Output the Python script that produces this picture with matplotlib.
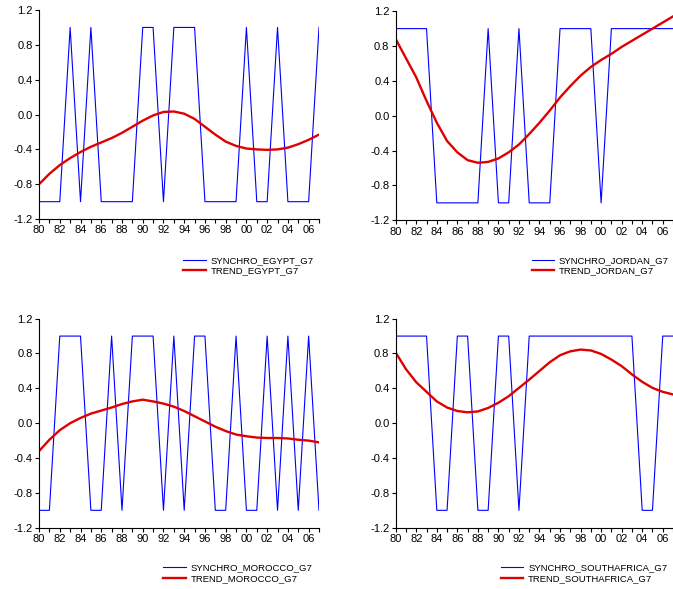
import matplotlib
matplotlib.use("Agg")
import matplotlib.pyplot as plt

plt.rcParams['font.family'] = ['Liberation Sans', 'DejaVu Sans']

years = list(range(1980, 2008))

synchro_egypt = [-1, -1, -1, 1, -1, 1, -1, -1, -1, -1, 1, 1, -1, 1,
                 1, 1, -1, -1, -1, -1, 1, -1, -1, 1, -1, -1, -1, 1]
trend_egypt = [-0.80, -0.68, -0.58, -0.50, -0.43, -0.37, -0.32, -0.27, -0.21, -0.14,
               -0.07, -0.01, 0.03, 0.035, 0.01, -0.05, -0.14, -0.23, -0.31, -0.36,
               -0.39, -0.40, -0.405, -0.40, -0.38, -0.34, -0.29, -0.23]

synchro_jordan = [1, 1, 1, 1, -1, -1, -1, -1, -1, 1, -1, -1, 1, -1,
                  -1, -1, 1, 1, 1, 1, -1, 1, 1, 1, 1, 1, 1, 1]
trend_jordan = [0.88, 0.66, 0.44, 0.17, -0.08, -0.29, -0.42, -0.51, -0.54, -0.53,
                -0.49, -0.42, -0.33, -0.21, -0.08, 0.06, 0.21, 0.34, 0.46, 0.56,
                0.64, 0.71, 0.79, 0.86, 0.93, 1.00, 1.07, 1.14]

synchro_morocco = [-1, -1, 1, 1, 1, -1, -1, 1, -1, 1, 1, 1, -1, 1,
                   -1, 1, 1, -1, -1, 1, -1, -1, 1, -1, 1, -1, 1, -1]
trend_morocco = [-0.32, -0.19, -0.08, 0.0, 0.06, 0.11, 0.145, 0.18, 0.22, 0.25,
                 0.27, 0.25, 0.225, 0.19, 0.14, 0.08, 0.02, -0.04, -0.09, -0.13,
                 -0.15, -0.165, -0.17, -0.17, -0.175, -0.19, -0.20, -0.22]

synchro_southafrica = [1, 1, 1, 1, -1, -1, 1, 1, -1, -1, 1, 1, -1, 1,
                       1, 1, 1, 1, 1, 1, 1, 1, 1, 1, -1, -1, 1, 1]
trend_southafrica = [0.81, 0.62, 0.47, 0.36, 0.25, 0.18, 0.14, 0.125, 0.135, 0.175,
                     0.235, 0.31, 0.405, 0.50, 0.60, 0.70, 0.78, 0.825, 0.845, 0.835,
                     0.795, 0.73, 0.655, 0.56, 0.475, 0.405, 0.36, 0.33]

panels = [
    ("EGYPT", synchro_egypt, trend_egypt),
    ("JORDAN", synchro_jordan, trend_jordan),
    ("MOROCCO", synchro_morocco, trend_morocco),
    ("SOUTHAFRICA", synchro_southafrica, trend_southafrica),
]

# axes rectangles [left, bottom, width, height] in figure fraction
rects = [
    [0.058, 0.628, 0.416, 0.355],
    [0.588, 0.626, 0.412, 0.355],
    [0.058, 0.104, 0.416, 0.355],
    [0.588, 0.104, 0.412, 0.355],
]
# legend anchors (upper left) in figure fraction
leg_pos = [(0.272, 0.565), (0.790, 0.565), (0.242, 0.043), (0.744, 0.043)]

fig = plt.figure(figsize=(6.73, 5.89), dpi=100)

for (name, syn, trd), rect, lp in zip(panels, rects, leg_pos):
    ax = fig.add_axes(rect)
    ax.plot(years, syn, color='#0000FF', linewidth=0.8, label=f"SYNCHRO_{name}_G7")
    ax.plot(years, trd, color='#E00000', linewidth=1.7, label=f"TREND_{name}_G7")
    ax.set_xlim(1980, 2007)
    ax.set_ylim(-1.2, 1.2)
    ax.set_yticks([-1.2, -0.8, -0.4, 0.0, 0.4, 0.8, 1.2])
    ax.set_yticklabels(["-1.2", "-0.8", "-0.4", "0.0", "0.4", "0.8", "1.2"])
    ax.set_xticks(years)
    ax.set_xticklabels([f"{y % 100:02d}" if y % 2 == 0 else "" for y in years])
    ax.tick_params(labelsize=8, length=3, width=0.8, pad=1.5, colors='black')
    ax.spines['top'].set_visible(False)
    ax.spines['right'].set_visible(False)
    ax.spines['left'].set_linewidth(0.8)
    ax.spines['bottom'].set_linewidth(0.8)
    ax.legend(loc='upper left', bbox_to_anchor=lp, bbox_transform=fig.transFigure,
              frameon=False, fontsize=6.8, handlelength=2.4, handletextpad=0.5,
              borderpad=0, borderaxespad=0, labelspacing=0.15)

plt.savefig("out.png", dpi=100)
